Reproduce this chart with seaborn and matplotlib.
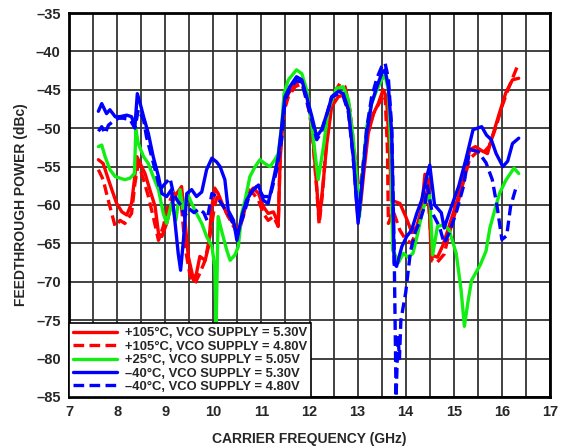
import numpy as np
import matplotlib
matplotlib.use("Agg")
import matplotlib.pyplot as plt
import seaborn as sns

# +105°C, 5.30V
f_r530 = [7.61, 7.71, 7.82, 7.89, 7.99, 8.1, 8.2, 8.3, 8.36, 8.41, 8.48, 8.58, 8.68, 8.79, 8.86, 8.93,
          9.03, 9.13, 9.24, 9.34, 9.41, 9.48, 9.59, 9.65, 9.72, 9.83, 9.9, 9.97, 10.03, 10.1, 10.21,
          10.31, 10.42, 10.52, 10.62, 10.73, 10.83, 10.94, 11.04, 11.14, 11.25, 11.35, 11.39, 11.46,
          11.56, 11.7, 11.84, 11.94, 12.05, 12.15, 12.2, 12.27, 12.36, 12.46, 12.6, 12.7, 12.81, 12.91,
          12.99, 13.05, 13.12, 13.22, 13.33, 13.43, 13.53, 13.6, 13.66, 13.71, 13.88, 14.0, 14.13,
          14.23, 14.33, 14.4, 14.47, 14.53, 14.66, 14.77, 14.9, 15.05, 15.2, 15.33, 15.45, 15.6, 15.7,
          15.8, 15.95, 16.08, 16.22, 16.35]
v_r530 = [-54.1, -54.6, -56.7, -58, -59.8, -60.9, -61.3, -59.8, -56.7, -53.7, -54.6, -55.9, -58, -60.2,
          -63.7, -64.1, -62.4, -59.8, -58.5, -57.6, -62, -66.7, -69.8, -68.9, -66.7, -67.2, -65.4, -60.2,
          -57.8, -58.5, -60.2, -61.5, -62.4, -63.7, -61.5, -58.5, -57.8, -58.5, -60.2, -61.1, -60.9,
          -62.4, -54.1, -47.6, -45.5, -44.2, -43.7, -45.5, -49.4, -57.6, -62, -58, -52, -47.2, -45.9,
          -45.7, -47.6, -53.3, -58.9, -60.7, -56.3, -50.7, -48.1, -46.8, -45, -45.9, -52.8, -59.4,
          -59.8, -61.5, -63.6, -62.8, -60.5, -56, -56.8, -66.5, -66.8, -65.3, -62.8, -59.8, -56.8,
          -52.8, -52.4, -53, -53.3, -51.1, -48, -45.4, -43.7, -43.5]

# +105°C, 4.80V
f_r480 = [7.61, 7.71, 7.78, 7.85, 7.96, 8.06, 8.16, 8.3, 8.37, 8.44, 8.55, 8.65, 8.75, 8.86, 8.96, 9.07,
          9.17, 9.31, 9.41, 9.52, 9.62, 9.72, 9.83, 9.93, 10.03, 10.1, 10.14, 10.28, 10.42, 10.52, 10.62,
          10.73, 10.83, 10.94, 11.04, 11.14, 11.25, 11.35, 11.39, 11.46, 11.56, 11.7, 11.84, 11.94,
          12.05, 12.15, 12.2, 12.27, 12.36, 12.5, 12.63, 12.74, 12.84, 12.95, 13.01, 13.08, 13.19,
          13.33, 13.47, 13.57, 13.62, 13.64, 13.74, 13.88, 14.0, 14.12, 14.25, 14.4, 14.45, 14.5,
          14.55, 14.65, 14.8, 14.9, 15.05, 15.2, 15.33, 15.5, 15.6, 15.73, 15.88, 16.0, 16.15, 16.35]
v_r480 = [-55.4, -56.7, -58.5, -60.2, -62.8, -62, -62.4, -61.1, -57.2, -54.6, -56.7, -58.9, -61.5, -64.6,
          -62.8, -59.8, -58.5, -58, -65.4, -69.3, -70.2, -68.9, -67.2, -64, -60, -58.5, -59.4, -61.1,
          -62.8, -63.2, -61.1, -58, -58.5, -59.4, -61.1, -62, -61.5, -62.8, -53.3, -48, -45.9, -44.6,
          -44.2, -46, -50, -58, -62.5, -58.5, -51, -45.5, -44.2, -44.6, -47.6, -54, -60.2, -56.3, -51,
          -48.1, -46.5, -45.5, -52.8, -62.4, -60.8, -63.3, -64.5, -65, -63, -59.4, -57.6, -62, -67.3,
          -67.5, -66.4, -63.8, -60.5, -57, -54, -53, -53.3, -52.4, -49.8, -47.2, -44.6, -41.5]

# +25°C, 5.05V
f_g505 = [7.61, 7.68, 7.75, 7.85, 7.96, 8.06, 8.16, 8.27, 8.36, 8.39, 8.44, 8.55, 8.65, 8.75, 8.86, 8.96,
          9.03, 9.13, 9.22, 9.31, 9.38, 9.46, 9.55, 9.65, 9.76, 9.86, 9.97, 10.03, 10.06, 10.1, 10.17,
          10.28, 10.35, 10.45, 10.52, 10.59, 10.66, 10.76, 10.87, 10.97, 11.07, 11.18, 11.28, 11.35,
          11.42, 11.47, 11.56, 11.73, 11.84, 11.94, 12.05, 12.18, 12.29, 12.39, 12.56, 12.7, 12.81,
          12.91, 12.99, 13.04, 13.08, 13.19, 13.29, 13.4, 13.5, 13.57, 13.64, 13.69, 13.73, 13.78,
          13.85, 13.95, 14.05, 14.15, 14.25, 14.35, 14.43, 14.5, 14.56, 14.66, 14.77, 14.9, 15.05,
          15.15, 15.22, 15.3, 15.37, 15.45, 15.55, 15.67, 15.75, 15.85, 15.95, 16.08, 16.25, 16.35]
v_g505 = [-52.4, -52.2, -53.7, -55.4, -56.3, -56.5, -56.7, -56.5, -55.9, -50.2, -52, -53.7, -54.6, -56.3,
          -58, -61.1, -62.4, -59.8, -62, -58, -61.1, -58.5, -59.8, -61.1, -62.4, -64.1, -65.4, -68,
          -75.5, -61.5, -63.3, -65.9, -67.2, -66.5, -65.4, -61.1, -59.4, -56.3, -55, -54.1, -54.6, -55,
          -54.1, -53.3, -49.8, -45.5, -43.7, -42.4, -42.9, -45, -49.8, -56.7, -52.4, -47.6, -44.8,
          -44.6, -46.3, -51.5, -57.2, -61.5, -57.2, -49.8, -46.8, -45, -43.7, -43.1, -45, -52.8, -65.9,
          -66.5, -67.5, -66.3, -66.8, -66.3, -63.7, -60.7, -59.3, -58.8, -66.5, -62.8, -62.6, -63.2,
          -66.3, -71, -75.8, -72.4, -69.8, -68.9, -67.8, -66, -63, -60.7, -58.5, -56.8, -55.2, -55.9]

# -40°C, 5.30V
f_b530 = [7.61, 7.68, 7.78, 7.85, 7.96, 8.06, 8.2, 8.3, 8.37, 8.42, 8.48, 8.55, 8.65, 8.75, 8.86, 8.93,
          9.03, 9.13, 9.2, 9.27, 9.32, 9.38, 9.45, 9.55, 9.65, 9.76, 9.86, 9.97, 10.07, 10.14, 10.24,
          10.31, 10.42, 10.49, 10.59, 10.69, 10.83, 10.94, 11.04, 11.14, 11.25, 11.35, 11.42, 11.49,
          11.59, 11.73, 11.84, 11.94, 12.05, 12.15, 12.25, 12.39, 12.46, 12.6, 12.7, 12.81, 12.91,
          13.01, 13.08, 13.19, 13.29, 13.4, 13.5, 13.57, 13.64, 13.71, 13.76, 13.81, 13.92, 14.02,
          14.12, 14.23, 14.33, 14.43, 14.5, 14.6, 14.74, 14.8, 14.95, 15.1, 15.25, 15.4, 15.58, 15.68,
          15.78, 15.88, 16.02, 16.12, 16.22, 16.35]
v_b530 = [-47.8, -46.8, -48.1, -47.6, -48.5, -48.5, -48.3, -48.5, -49.8, -45.5, -46.8, -48.5, -50.7,
          -53.7, -56.3, -58.5, -58.9, -58, -62, -66.3, -68.5, -64.5, -58.5, -58, -58.9, -58.3, -55.4,
          -53.9, -54.4, -55, -56.7, -60.7, -62, -64.6, -61.5, -59.4, -58, -57.4, -59.4, -59.8, -56.7,
          -53.7, -49.8, -45.9, -44.6, -43.3, -43.7, -45.9, -48.5, -51.1, -50.2, -47.6, -45.9, -45.2,
          -45.5, -47.6, -53.7, -62.4, -58, -50.7, -46.8, -44.6, -42.9, -42.4, -44.6, -50.7, -67.6, -68,
          -65.4, -64.1, -63.3, -61.1, -59.4, -56.5, -54.8, -60, -61, -63, -60.2, -57.6, -54.1, -50.2,
          -49.8, -50.9, -51.5, -53.3, -55, -54.3, -52, -51.3]

# -40°C, 4.80V
f_b480 = [7.61, 7.68, 7.75, 7.82, 7.92, 8.03, 8.13, 8.27, 8.37, 8.44, 8.55, 8.61, 8.68, 8.79, 8.89, 9.0,
          9.1, 9.17, 9.24, 9.32, 9.4, 9.5, 9.6, 9.7, 9.8, 9.87, 9.97, 10.07, 10.21, 10.35, 10.49, 10.62,
          10.76, 10.9, 11.04, 11.18, 11.32, 11.42, 11.49, 11.59, 11.73, 11.84, 11.94, 12.05, 12.15,
          12.25, 12.39, 12.46, 12.6, 12.7, 12.81, 12.91, 13.01, 13.08, 13.19, 13.29, 13.4, 13.5, 13.57,
          13.64, 13.71, 13.76, 13.8, 13.84, 13.87, 13.9, 14.0, 14.1, 14.2, 14.3, 14.4, 14.45, 14.55,
          14.7, 14.8, 14.9, 15.05, 15.2, 15.33, 15.5, 15.67, 15.8, 15.9, 16.0, 16.1, 16.18, 16.3, 16.35]
v_b480 = [-50.4, -49.8, -50.7, -49.6, -49.1, -48.7, -48.7, -48.9, -50, -47.6, -48.9, -51.1, -52.8, -55.4,
          -58, -57.2, -56.5, -58.5, -59.3, -60, -61.5, -60.5, -61, -60.5, -61, -62, -58.5, -58.9, -60.2,
          -61.5, -63.7, -61.5, -58.5, -57.6, -58.9, -58.9, -55.4, -51.5, -46.5, -44.8, -43.8, -44,
          -46.5, -49, -51.5, -50.5, -47.5, -46, -45.5, -45.8, -48, -54, -62, -57.5, -50, -46, -43.5,
          -42, -41.5, -43.5, -50, -66, -85, -77, -80, -75, -71.4, -66, -63.5, -62, -60, -57.5, -61,
          -62.8, -65, -63.7, -61, -57.6, -52.8, -53, -54.5, -56.7, -60.2, -64.5, -64, -60.2, -57.6,
          -57.6]

series = [
    (f_r530, v_r530, "#ff0000", "-", "+105°C, VCO SUPPLY = 5.30V"),
    (f_r480, v_r480, "#ff0000", "--", "+105°C, VCO SUPPLY = 4.80V"),
    (f_g505, v_g505, "#11ee11", "-", "+25°C, VCO SUPPLY = 5.05V"),
    (f_b530, v_b530, "#0000ff", "-", "–40°C, VCO SUPPLY = 5.30V"),
    (f_b480, v_b480, "#0000ff", "--", "–40°C, VCO SUPPLY = 4.80V"),
]

x_ticks = list(range(7, 18))
y_ticks = list(range(-85, -34, 5))


def plot():
    sns.set_theme(style="white")
    plt.rcParams["font.family"] = ["Liberation Sans", "DejaVu Sans"]
    plt.rcParams["font.weight"] = "bold"

    fig = plt.figure(figsize=(5.63, 4.47), dpi=100)
    ax = fig.add_axes([0.1226, 0.1119, 0.8543, 0.859])

    for f, v, col, ls, lab in series:
        sns.lineplot(x=f, y=v, ax=ax, color=col, linewidth=2.4, sort=False,
                     estimator=None, label=lab,
                     linestyle=(0, (3.2, 1.6)) if ls == "--" else "-")

    ax.set_xlim(7, 17)
    ax.set_ylim(-85, -35)
    ax.set_xticks(x_ticks)
    ax.set_xticks(np.arange(7.5, 17, 1.0), minor=True)
    ax.set_yticks(y_ticks)
    ax.set_yticklabels([str(t).replace("-", "–") for t in y_ticks])
    ax.grid(True, which="both", color="#333333", linewidth=1.3)
    ax.set_axisbelow(True)
    ax.tick_params(which="both", length=0, labelsize=10.5, pad=6)
    for lbl in ax.get_xticklabels() + ax.get_yticklabels():
        lbl.set_fontweight("bold")
    for sp in ax.spines.values():
        sp.set_color("black")
        sp.set_linewidth(2)

    ax.set_xlabel("CARRIER FREQUENCY (GHz)", fontsize=10, fontweight="bold", labelpad=9)
    ax.set_ylabel("FEEDTHROUGH POWER (dBc)", fontsize=10, fontweight="bold", labelpad=6)

    leg = ax.legend(loc="lower left", borderaxespad=0, fancybox=False, framealpha=1,
                    edgecolor="black", handlelength=3.4, handletextpad=0.6,
                    labelspacing=0.1, borderpad=0.3,
                    prop={"size": 9.4, "weight": "bold"})
    leg.get_frame().set_linewidth(1.2)

    fig.savefig("out.png", dpi=100)
    plt.close(fig)


if __name__ == "__main__":
    plot()
